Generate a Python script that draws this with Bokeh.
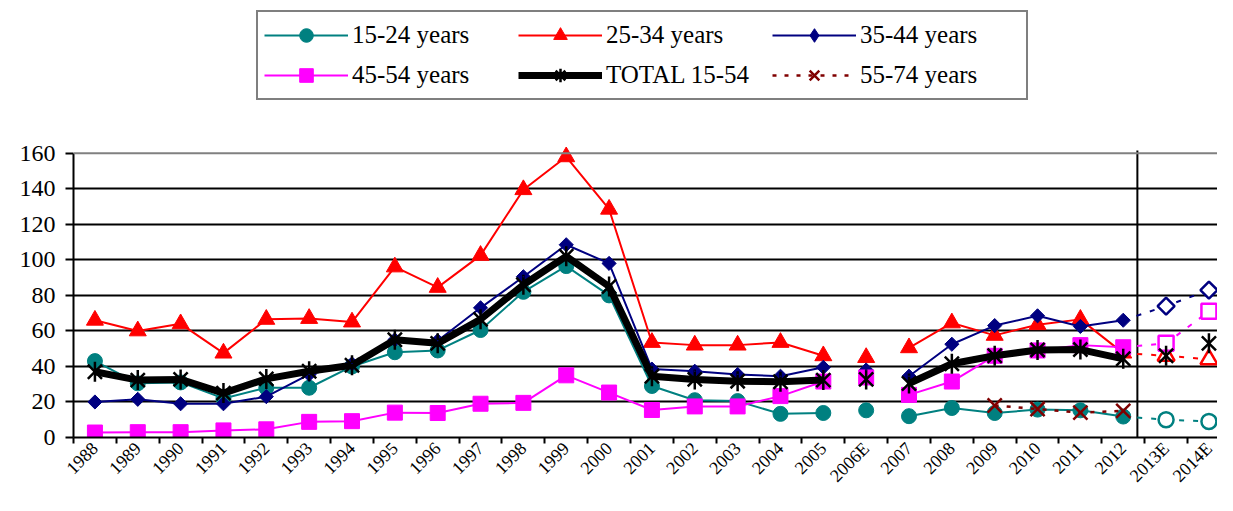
import math
from bokeh.plotting import figure
from bokeh.models import Range1d, FixedTicker, Span, Legend, LegendItem
from bokeh.embed import file_html
from bokeh.resources import INLINE

# ---------------- data ----------------
categories = ["1988", "1989", "1990", "1991", "1992", "1993", "1994", "1995",
              "1996", "1997", "1998", "1999", "2000", "2001", "2002", "2003",
              "2004", "2005", "2006E", "2007", "2008", "2009", "2010", "2011",
              "2012", "2013E", "2014E"]
actual_years = categories[:25]          # 1988 .. 2012
forecast_years = categories[24:]        # 2012, 2013E, 2014E

age_15_24 = [43, 30.5, 31, 22, 28, 28, 40, 48, 49, 60.5, 82, 96.5, 80, 29, 21,
             20.5, 13.3, 13.8, 15.3, 12, 16.6, 13.8, 15.7, 15.3, 11.8]
age_25_34 = [66, 60, 64, 47.5, 66.5, 67, 65, 96, 84.5, 102.5, 139.5, 158, 128.5,
             53.5, 52, 52, 53.5, 46, 45, 50.5, 64.5, 57.5, 63.5, 66.5, 47.5]
age_35_44 = [20, 21.5, 19, 19, 23, 35.5, 41.5, 55, 54.5, 73, 90.5, 108.5, 98,
             38.5, 37.3, 35.5, 34.5, 39.5, 38, 34.5, 52.5, 63, 68.5, 62.5, 66]
age_45_54 = [2.8, 3, 3, 4, 4.6, 8.8, 9.2, 14, 13.8, 19, 19.5, 35, 25.3, 15.5,
             17.5, 17.5, 23.3, 31.5, 33.8, 24, 31.5, 46, 49, 52, 50.8]
total_15_54 = [37, 32.3, 32.7, 25, 33, 37.3, 40.7, 55, 53, 66.5, 86, 102, 85,
               34.5, 32.7, 31.7, 31.4, 32.3, 32.7, 30.4, 41.5, 46, 49.3, 49.5, 44.3]

# forecasts for 2013E, 2014E
fc_15_24 = [10, 9]
fc_25_34 = [46, 44]
fc_35_44 = [74, 83]
fc_45_54 = [53, 71]
fc_total = [46, 53]

years_55_74 = ["2009", "2010", "2011", "2012"]
age_55_74 = [18, 16, 14, 15]

y_ticks = [0, 20, 40, 60, 80, 100, 120, 140, 160]

# ---------------- helpers ----------------
pos = {c: i + 0.5 for i, c in enumerate(categories)}
xa = [pos[c] for c in actual_years]
xf_pts = [pos[c] for c in categories[25:]]
xf_line = [pos[c] for c in forecast_years]


def broken(vals):
    # estimated year (suffix "E") is shown as an isolated point
    return [float("nan") if c.endswith("E") else v for c, v in zip(actual_years, vals)]


SERIF = "Liberation Serif"
Y_MAX = y_ticks[-1]
DIAMOND = math.pi / 4   # square turned 45 degrees

# the frame reaches up to the top of the canvas so that the legend can sit above the plot area
p = figure(width=1217, height=495, output_backend="svg", toolbar_location=None,
           x_range=Range1d(0, 26.7), y_range=Range1d(0, 246),
           min_border_left=73, min_border_right=0, min_border_top=0,
           min_border_bottom=40)
p.outline_line_color = None
p.background_fill_color = "white"
p.border_fill_color = "white"

# grid
p.xgrid.visible = False
p.ygrid.ticker = FixedTicker(ticks=y_ticks[1:-1])
p.ygrid.grid_line_color = "black"
p.ygrid.grid_line_width = 2
p.add_layout(Span(location=Y_MAX, dimension="width", line_color="#808080", line_width=2))
sep = 24.83   # separator between actual and forecast years
p.segment(x0=[sep], y0=[0], x1=[sep], y1=[Y_MAX + 1.5], line_color="black", line_width=2)

# axes
p.yaxis.ticker = FixedTicker(ticks=y_ticks)
p.yaxis.bounds = (0, Y_MAX)
p.yaxis.major_label_text_font = SERIF
p.yaxis.major_label_text_font_size = "24px"
p.yaxis.major_label_text_color = "black"
p.yaxis.axis_line_width = 2
p.yaxis.axis_line_color = "black"
p.yaxis.major_tick_line_width = 2
p.yaxis.major_tick_out = 8
p.yaxis.major_tick_in = 0
p.yaxis.minor_tick_line_color = None
p.yaxis.major_label_standoff = 10

centers = [pos[c] for c in categories]
bounds = [float(i) for i in range(len(categories) + 1)]
p.xaxis.ticker = FixedTicker(ticks=centers, minor_ticks=bounds)
p.xaxis.major_label_overrides = {pos[c]: c for c in categories}
p.xaxis.major_label_orientation = math.pi / 4
p.xaxis.major_label_text_font = SERIF
p.xaxis.major_label_text_font_size = "18px"
p.xaxis.major_label_text_color = "black"
p.xaxis.major_tick_out = 0
p.xaxis.major_tick_in = 0
p.xaxis.minor_tick_out = 6
p.xaxis.minor_tick_in = 0
p.xaxis.minor_tick_line_color = "black"
p.xaxis.minor_tick_line_width = 2
p.xaxis.axis_line_width = 2
p.xaxis.axis_line_color = "black"
p.xaxis.major_label_standoff = 2

TEAL, RED, NAVY, MAG, MAROON = "#008080", "#FF0000", "#000080", "#FF00FF", "#800000"

# forecasts (dashed, open markers)
p.line(xf_line, [age_15_24[-1]] + fc_15_24, line_color=TEAL, line_width=2, line_dash="5 9")
p.scatter(xf_pts, fc_15_24, marker="circle", size=15, fill_color="white", line_color=TEAL, line_width=2.5)
p.line(xf_line, [age_25_34[-1]] + fc_25_34, line_color=RED, line_width=2, line_dash="5 9")
p.scatter(xf_pts, fc_25_34, marker="triangle", size=17, fill_color="white", line_color=RED, line_width=2.5)
p.line(xf_line, [age_35_44[-1]] + fc_35_44, line_color=NAVY, line_width=2, line_dash="5 9")
p.scatter(xf_pts, fc_35_44, marker="square", angle=DIAMOND, size=12, fill_color="white",
          line_color=NAVY, line_width=2.5)
p.line(xf_line, [age_45_54[-1]] + fc_45_54, line_color=MAG, line_width=2, line_dash="5 9")
p.scatter(xf_pts, fc_45_54, marker="square", size=15, fill_color="white", line_color=MAG, line_width=2.5)
p.scatter(xf_pts, fc_total, marker="x", size=20, line_color="black", line_width=2.5)
p.scatter(xf_pts, fc_total, marker="dash", angle=math.pi / 2, size=20, line_color="black", line_width=2.5)

# actual series
l1 = p.line(xa, broken(age_15_24), line_color=TEAL, line_width=2)
s1 = p.scatter(xa, age_15_24, marker="circle", size=15, fill_color=TEAL, line_color=TEAL)
l2 = p.line(xa, broken(age_25_34), line_color=RED, line_width=2)
s2 = p.scatter(xa, age_25_34, marker="triangle", size=17, fill_color=RED, line_color=RED)
l3 = p.line(xa, broken(age_35_44), line_color=NAVY, line_width=2)
p.scatter(xa, age_35_44, marker="square", angle=DIAMOND, size=10, fill_color=NAVY, line_color=NAVY)
l4 = p.line(xa, broken(age_45_54), line_color=MAG, line_width=2)
s4 = p.scatter(xa, age_45_54, marker="square", size=15, fill_color=MAG, line_color=MAG)
l5 = p.line(xa, broken(total_15_54), line_color="black", line_width=7)
p.scatter(xa, total_15_54, marker="x", size=20, line_color="black", line_width=2.5)
p.scatter(xa, total_15_54, marker="dash", angle=math.pi / 2, size=20, line_color="black", line_width=2.5)
x6 = [pos[c] for c in years_55_74]
l6 = p.line(x6, age_55_74, line_color=MAROON, line_width=2.5, line_dash="4 8")
s6 = p.scatter(x6, age_55_74, marker="x", size=20, line_color=MAROON, line_width=2.5)

# marker glyphs used for the legend swatches (legend swatches ignore marker rotation);
# drawn tiny on the data so they stay hidden under the plotted markers
k3 = p.scatter(xa, age_35_44, marker="diamond", size=1, fill_color=NAVY, line_color=NAVY)
k5 = p.scatter(xa, total_15_54, marker="asterisk", size=1, line_color="black", line_width=2.5)

legend = Legend(items=[
    LegendItem(label="15-24 years", renderers=[l1, s1]),
    LegendItem(label="25-34 years", renderers=[l2, s2]),
    LegendItem(label="35-44 years", renderers=[l3, k3]),
    LegendItem(label="45-54 years", renderers=[l4, s4]),
    LegendItem(label="TOTAL 15-54", renderers=[l5, k5]),
    LegendItem(label="55-74 years", renderers=[l6, s6]),
], orientation="horizontal", ncols=3, location=(183, 337))
legend.label_text_font = SERIF
legend.label_text_font_size = "25px"
legend.label_text_color = "black"
legend.glyph_width = 84
legend.glyph_height = 34
legend.label_width = 160
legend.label_standoff = 4
legend.spacing = 6
legend.padding = 6
legend.margin = 0
legend.border_line_color = "black"
legend.border_line_width = 2
legend.background_fill_alpha = 1
p.add_layout(legend, "center")

open("out.html", "w").write(file_html(p, INLINE))
